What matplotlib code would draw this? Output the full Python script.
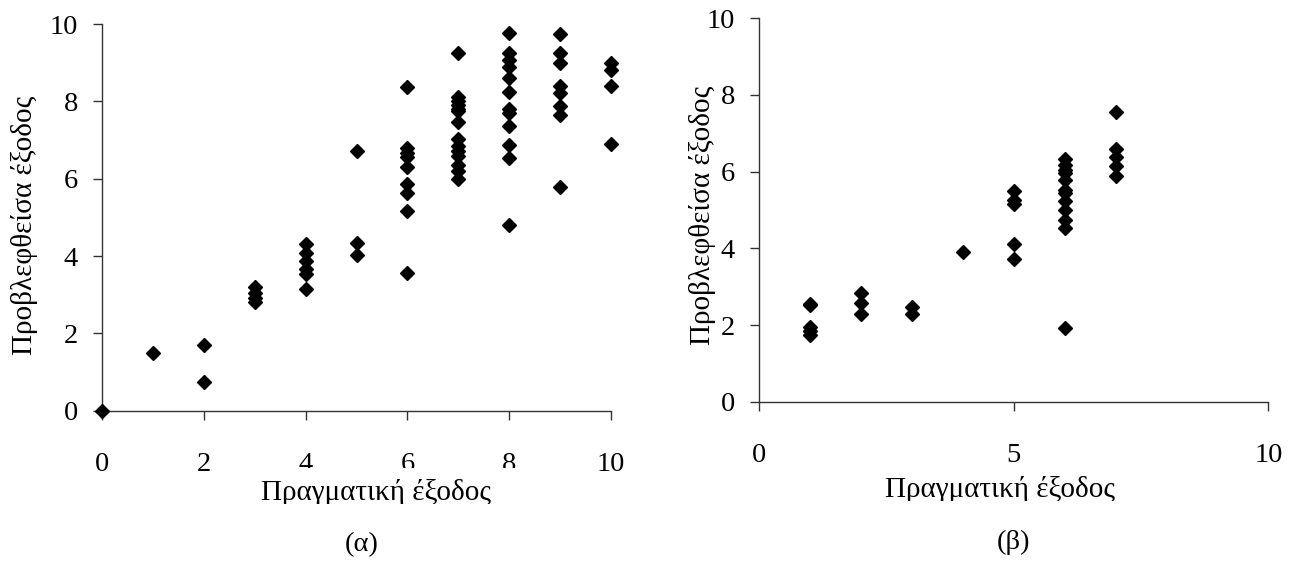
import numpy as np
import matplotlib.pyplot as plt
from matplotlib.patches import Rectangle
from matplotlib.transforms import Bbox

plt.rcParams['font.family'] = ['Liberation Serif', 'DejaVu Serif']

#%% data
# panel (a): actual output -> predicted output
xa = [0, 1, 2, 2, 3, 3, 3, 3, 4, 4, 4, 4, 4, 4, 5, 5, 5,
      6, 6, 6, 6, 6, 6, 6, 6, 6,
      7, 7, 7, 7, 7, 7, 7, 7, 7, 7, 7, 7, 7, 7,
      8, 8, 8, 8, 8, 8, 8, 8, 8, 8, 8, 8,
      9, 9, 9, 9, 9, 9, 9, 9,
      10, 10, 10, 10]
ya = [0.0, 1.50, 1.70, 0.73, 3.21, 3.05, 2.92, 2.81,
      4.30, 4.08, 3.87, 3.67, 3.53, 3.16, 6.71, 4.34, 4.02,
      8.36, 6.79, 6.66, 6.55, 6.29, 5.85, 5.63, 5.16, 3.55,
      9.24, 8.10, 8.00, 7.90, 7.80, 7.76, 7.46, 7.02, 6.84, 6.71, 6.58, 6.36, 6.19, 5.99,
      9.78, 9.24, 9.07, 8.90, 8.60, 8.25, 7.80, 7.70, 7.37, 6.86, 6.53, 4.80,
      9.75, 9.24, 8.99, 8.40, 8.21, 7.87, 7.65, 5.78,
      8.99, 8.81, 8.40, 6.90]

# panel (b)
xb = [1, 1, 1, 1, 1, 2, 2, 2, 3, 3, 4, 5, 5, 5, 5, 5,
      6, 6, 6, 6, 6, 6, 6, 6, 6, 6, 6, 6,
      7, 7, 7, 7, 7]
yb = [2.56, 2.51, 1.94, 1.84, 1.75, 2.84, 2.58, 2.29, 2.47, 2.29, 3.91,
      5.49, 5.27, 5.16, 4.12, 3.71,
      6.33, 6.18, 6.05, 5.96, 5.79, 5.53, 5.44, 5.23, 5.01, 4.75, 4.53, 1.93,
      7.55, 6.60, 6.37, 6.16, 5.88]

xticks_a = [0, 2, 4, 6, 8, 10]
xticks_b = [0, 5, 10]
yticks = [0, 2, 4, 6, 8, 10]

xlab = 'Πραγματική έξοδος'
ylab = 'Προβλεφθείσα έξοδος'
captions = ['(α)', '(β)']

#%% plot
W, H = 1294, 565
fig = plt.figure(figsize=(W / 100, H / 100), dpi=100)
ax1 = fig.add_axes([0.0792, 0.2731, 0.3927, 0.6844])
ax2 = fig.add_axes([0.5866, 0.2890, 0.3936, 0.6786])

for ax, x, y, xt in ((ax1, xa, ya, xticks_a), (ax2, xb, yb, xticks_b)):
    ax.plot(x, y, 'D', color='black', markersize=7.3, clip_on=False, zorder=3)
    ax.set_xlim(0, 10)
    ax.set_ylim(0, 10)
    ax.set_xticks(xt)
    ax.set_yticks(yticks)
    ax.spines['top'].set_visible(False)
    ax.spines['right'].set_visible(False)
    for s in ('left', 'bottom'):
        ax.spines[s].set_color('#333333')
        ax.spines[s].set_linewidth(1.0)
    ax.tick_params(axis='both', direction='out', length=6.5, width=1.0,
                   color='#333333', labelsize=20.5)
    ax.tick_params(axis='x', pad=23)
    ax.tick_params(axis='y', pad=11)

# white box over the lower half of the middle tick labels of panel (a), as in the original
fig.patches.append(Rectangle((225 / W, 1 - 480 / H), 310 / W, 12 / H,
                             transform=fig.transFigure, facecolor='white',
                             edgecolor='none', zorder=5))

# x labels (bottom cut off just under the baseline, like the source image)
for xc, yb_px in ((376, 500), (1000, 497)):
    t = fig.text(xc / W, 1 - yb_px / H, xlab, fontsize=21, ha='center',
                 va='baseline', zorder=6)
    t.set_clip_box(Bbox([[0, H - yb_px - 4], [W, H]]))

# y labels
fig.text(25 / W, 1 - 225 / H, ylab, fontsize=21, rotation=90, ha='center', va='center')
fig.text(703 / W, 1 - 215 / H, ylab, fontsize=21, rotation=90, ha='center', va='center')

fig.text(362 / W, 1 - 545 / H, captions[0], fontsize=20.5, ha='center', va='center')
fig.text(1013 / W, 1 - 542 / H, captions[1], fontsize=20.5, ha='center', va='center')

plt.savefig('out.png', dpi=100)
